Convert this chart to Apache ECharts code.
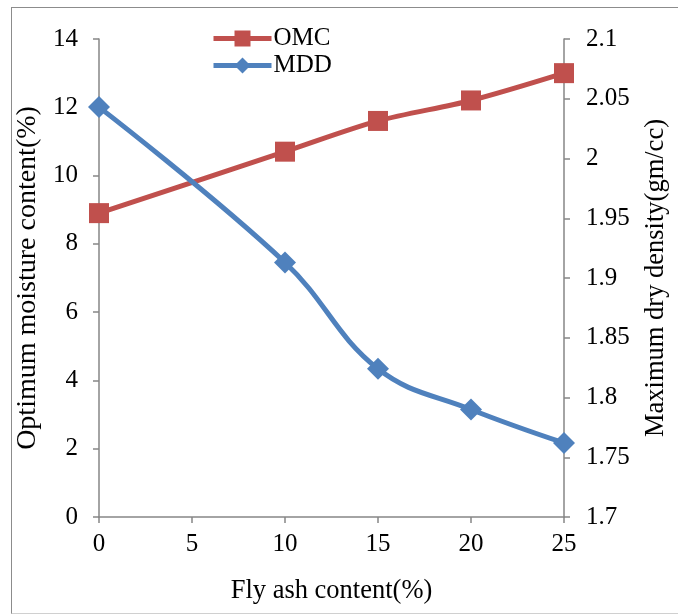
<!DOCTYPE html>
<html>
<head>
<meta charset="utf-8">
<script src="https://cdn.jsdelivr.net/npm/echarts@6/dist/echarts.min.js"></script>
<style>
  * {
    margin: 0;
    padding: 0;
  }
  body {
    background: #fff;
  }
  #frame {
    position: absolute;
    left: 11px;
    top: 7px;
    width: 680px;
    height: 605px;
    border-left: 1.5px solid #8c8c8c;
    border-top: 1.5px solid #8c8c8c;
    border-bottom: 1.5px solid #d0d0d0;
  }
  #chart {
    position: absolute;
    left: 0;
    top: 0;
    width: 678px;
    height: 614px;
  }
</style>
</head>
<body>
<div id="frame"></div>
<div id="chart"></div>
<script>
// fly ash content (%)
const flyAsh = [0, 10, 15, 20, 25];
// optimum moisture content (%)
const omc = [8.9, 10.7, 11.6, 12.2, 13.0];
// maximum dry density (gm/cc)
const mdd = [2.043, 1.913, 1.824, 1.79, 1.762];

const font = "Liberation Serif";
const axisColor = "#868686";
const fs = 25;

const pair = (xs, ys) => xs.map((x, i) => [x, ys[i]]);

const chart = echarts.init(document.getElementById("chart"));
chart.setOption({
  animation: false,
  textStyle: { fontFamily: font, color: "#000" },
  grid: { left: 99, right: 114, top: 39, bottom: 97 },
  legend: {
    orient: "vertical",
    left: 206,
    top: 21,
    itemWidth: 58,
    itemHeight: 20,
    itemGap: 2,
    lineStyle: { width: 5 },
    textStyle: { fontFamily: font, fontSize: fs, color: "#000", padding: [0, 0, 0, -3] },
    data: ["OMC", "MDD"],
  },
  xAxis: {
    type: "value",
    min: 0,
    max: 25,
    interval: 5,
    name: "Fly ash content(%)",
    nameLocation: "middle",
    nameGap: 61,
    nameTextStyle: { fontFamily: font, fontSize: 26.5, color: "#000" },
    axisLine: { show: true, lineStyle: { color: axisColor, width: 1.5 } },
    axisTick: { show: true, length: 6, lineStyle: { color: axisColor, width: 1.5 } },
    axisLabel: { fontFamily: font, fontSize: fs, color: "#000", margin: 15 },
    splitLine: { show: false },
  },
  yAxis: [
    {
      type: "value",
      position: "left",
      min: 0,
      max: 14,
      interval: 2,
      name: "Optimum moisture content(%)",
      nameLocation: "middle",
      nameRotate: 90,
      nameGap: 46,
      nameTextStyle: { fontFamily: font, fontSize: 28, color: "#000" },
      axisLine: { show: true, lineStyle: { color: axisColor, width: 1.5 } },
      axisTick: { show: true, length: 6, lineStyle: { color: axisColor, width: 1.5 } },
      axisLabel: { fontFamily: font, fontSize: fs, color: "#000", margin: 21 },
      splitLine: { show: false },
    },
    {
      type: "value",
      position: "right",
      min: 1.7,
      max: 2.1,
      interval: 0.05,
      name: "Maximum dry density(gm/cc)",
      nameLocation: "middle",
      nameRotate: 90,
      nameGap: 79,
      nameTextStyle: { fontFamily: font, fontSize: 26.5, color: "#000" },
      axisLine: { show: true, lineStyle: { color: axisColor, width: 1.5 } },
      axisTick: { show: true, length: 6, lineStyle: { color: axisColor, width: 1.5 } },
      axisLabel: {
        fontFamily: font,
        fontSize: fs,
        color: "#000",
        margin: 22,
        formatter: (v) => String(parseFloat(v.toFixed(2))),
      },
      splitLine: { show: false },
    },
  ],
  series: [
    {
      name: "OMC",
      type: "line",
      yAxisIndex: 0,
      data: pair(flyAsh, omc),
      smooth: 0.3,
      symbol: "rect",
      symbolSize: 20,
      itemStyle: { color: "#C0504D" },
      lineStyle: { color: "#C0504D", width: 5 },
    },
    {
      name: "MDD",
      type: "line",
      yAxisIndex: 1,
      data: pair(flyAsh, mdd),
      smooth: 0.4,
      symbol: "diamond",
      symbolSize: 22,
      itemStyle: { color: "#4F81BD" },
      lineStyle: { color: "#4F81BD", width: 5 },
    },
  ],
});
</script>
</body>
</html>
